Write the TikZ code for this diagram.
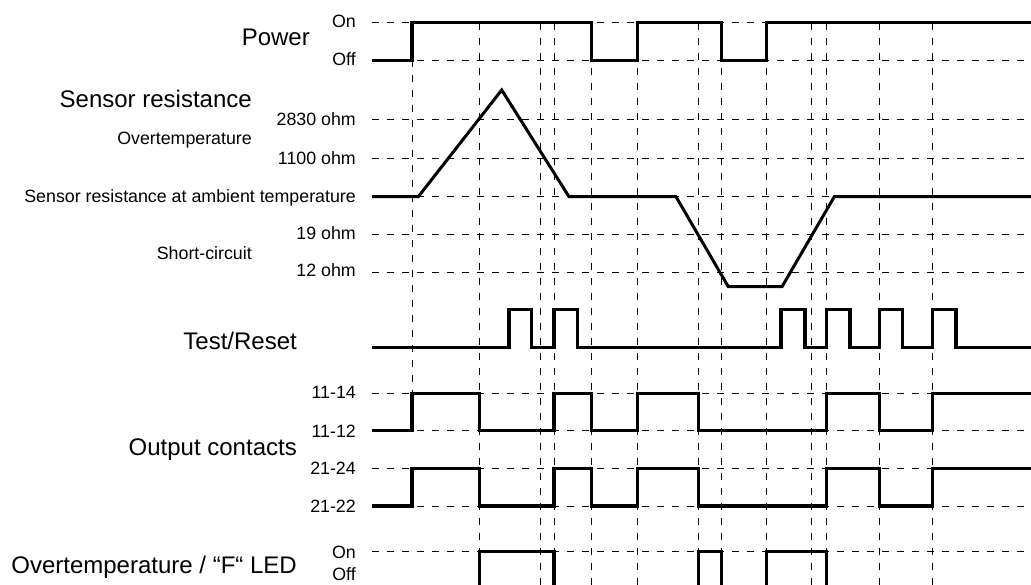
\documentclass[tikz,border=0pt]{standalone}
\usepackage{fontspec}
\setmainfont{Liberation Sans}
\begin{document}
\begin{tikzpicture}[x=1pt,y=-1pt,
  gridline/.style={line width=1pt, dash pattern=on 7pt off 8pt},
  sig/.style={line width=3.2pt, line join=miter},
  big/.style={font=\fontsize{24}{28}\selectfont, inner sep=0pt, anchor=base east},
  small/.style={font=\fontsize{17.8}{21}\selectfont, inner sep=0pt, anchor=base east}]
\useasboundingbox (0,0) rectangle (1031,585);
\clip (0,0) rectangle (1031,585);
% grid
\foreach \y in {22.7,60.3,120,158.3,196.7,235,272.7,393.3,430.3,468.3,506,551.7}
  \draw[gridline] (372,\y) -- (1031,\y);
\foreach \x in {479.3,540,554,591.5,637.3,698.5,721.7,766.7,811.7,826.7,879.5,932.7}
  \draw[gridline] (\x,22.7) -- (\x,585);
\draw[gridline] (412,60.3) -- (412,393.3);
% labels
\node[big] (power) at (310,45.9) {Power};
\node[small] (pon) at (356,27.1) {On};
\node[small] (poff) at (356,65.7) {Off};
\node[big] (sens) at (252,107.6) {Sensor resistance};
\node[small] (r2830) at (356,125.4) {2830 ohm};
\node[small] (ovt) at (252,144.7) {Overtemperature};
\node[small] (r1100) at (356,164.7) {1100 ohm};
\node[small] (amb) at (356,202.6) {Sensor resistance at ambient temperature};
\node[small] (r19) at (356,239.7) {19 ohm};
\node[small] (sc) at (252,259.1) {Short-circuit};
\node[small] (r12) at (356,276.4) {12 ohm};
\node[big] (test) at (297,349.6) {Test/Reset};
\node[small] (c1114) at (356,398.7) {11-14};
\node[small] (c1112) at (356,437.4) {11-12};
\node[big] (outc) at (297,455.9) {Output contacts};
\node[small] (c2124) at (356,474.7) {21-24};
\node[small] (c2122) at (356,512.4) {21-22};
\node[small] (lon) at (356,558.1) {On};
\node[small] (loff) at (356,580.5) {Off};
\node[big] (led) at (297,573.6) {Overtemperature / “F“ LED};
% power
\draw[sig] (372,60.3) -- (412,60.3) -- (412,22.7) -- (591.5,22.7) -- (591.5,60.3)
  -- (637.3,60.3) -- (637.3,22.7) -- (721.7,22.7) -- (721.7,60.3) -- (766.7,60.3)
  -- (766.7,22.7) -- (1031,22.7);
% sensor resistance
\draw[sig,line width=3pt] (372,196.7) -- (418.3,196.7) -- (501.7,90) -- (569,196.7)
  -- (676,196.7) -- (728.3,286.7) -- (782,286.7) -- (834.3,196.7) -- (1031,196.7);
% test/reset
\draw[sig] (372,347.3) -- (509,347.3) -- (509,309.3) -- (531.7,309.3) -- (531.7,347.3)
  -- (554,347.3) -- (554,309.3) -- (577.7,309.3) -- (577.7,347.3)
  -- (781,347.3) -- (781,309.3) -- (805,309.3) -- (805,347.3)
  -- (826.7,347.3) -- (826.7,309.3) -- (850,309.3) -- (850,347.3)
  -- (879.5,347.3) -- (879.5,309.3) -- (902.3,309.3) -- (902.3,347.3)
  -- (932.7,347.3) -- (932.7,309.3) -- (956,309.3) -- (956,347.3) -- (1031,347.3);
% output contacts
\foreach \hi/\lo in {393.3/430.3, 468.3/506}
  \draw[sig] (372,\lo) -- (412,\lo) -- (412,\hi) -- (479.3,\hi) -- (479.3,\lo)
    -- (554,\lo) -- (554,\hi) -- (591.5,\hi) -- (591.5,\lo) -- (637.3,\lo)
    -- (637.3,\hi) -- (698.5,\hi) -- (698.5,\lo) -- (826.7,\lo) -- (826.7,\hi)
    -- (879.5,\hi) -- (879.5,\lo) -- (932.7,\lo) -- (932.7,\hi) -- (1031,\hi);
% LED
\draw[sig] (372,592) -- (479.3,592) -- (479.3,551.7) -- (554,551.7) -- (554,592)
  -- (698.5,592) -- (698.5,551.7) -- (721.7,551.7) -- (721.7,592)
  -- (766.7,592) -- (766.7,551.7) -- (826.7,551.7) -- (826.7,592) -- (1031,592);
\end{tikzpicture}
\end{document}
